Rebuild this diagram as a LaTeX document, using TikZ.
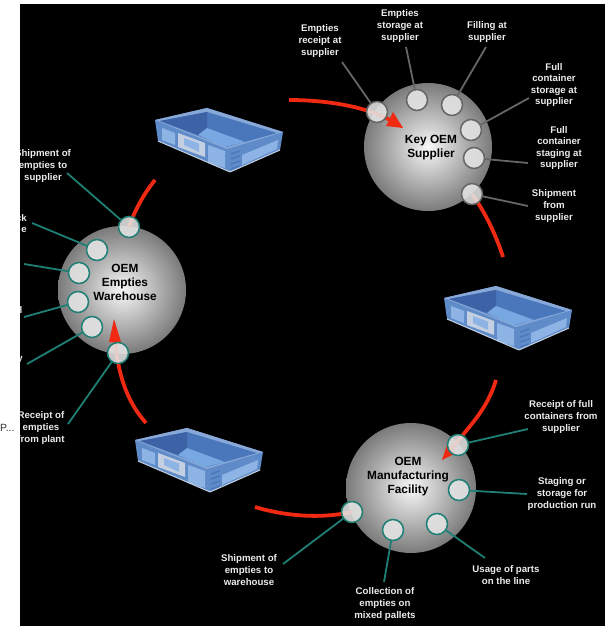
\documentclass[tikz,border=0pt]{standalone}
\usepackage{fontspec}
\setmainfont{Liberation Sans}
\definecolor{teal1}{HTML}{1F7F74}
\definecolor{grey1}{HTML}{666666}
\definecolor{red1}{HTML}{F02A12}
\definecolor{cratebody}{HTML}{5F8CC8}
\definecolor{cratepanel}{HTML}{8DB4E4}
\definecolor{cratewall}{HTML}{4A76BC}
\definecolor{cratedark}{HTML}{3D63A6}
\definecolor{cratefloor}{HTML}{78A8E2}
\definecolor{craterim}{HTML}{88A8D8}
\definecolor{cratelight}{HTML}{C4D0E2}
\tikzset{
 x=1bp,y=-1bp,
 lbl/.style={text=white!92!black,font=\bfseries\fontsize{9.7}{11.6}\selectfont,align=center,inner sep=0pt},
 ball/.style={circle,inner sep=0pt,minimum size=129bp},
 balltxt/.style={text=black,font=\bfseries\fontsize{11.9}{14}\selectfont,align=center,inner sep=0pt},
 port/.style={circle,inner sep=0pt,minimum size=21bp,draw=#1,line width=1.5bp,fill=white!90!black,fill opacity=.88},
 lead/.style={draw=#1,line width=1.8bp},
 flow/.style={draw=red1,line width=3.8bp},
 head/.style={fill=red1,draw=none},
 pics/crate/.style={code={
  % outer body
  \fill[cratebody] (0,12)--(52,0)--(128,24)--(125,42)--(75,64)--(3,33)--cycle;
  % rim and inside
  \fill[craterim] (0,12)--(52,0)--(128,24)--(72,41)--cycle;
  \fill[cratewall] (5,13)--(52,4)--(122,25)--(72,39)--cycle;
  \fill[cratedark] (5,13)--(52,4)--(52,20)--(43,27)--cycle;
  \fill[cratefloor] (43,27)--(52,20)--(90,34)--(70,39)--cycle;
  % front panels
  \fill[cratepanel] (7,20)--(20,25)--(20,37)--(7,32)--cycle;
  \fill[cratepanel] (53,37)--(70,43)--(70,60)--(53,55)--cycle;
  \fill[cratepanel] (87,47)--(123,32)--(122,41)--(87,57)--cycle;
  % ribs
  \draw[cratewall,line width=1.3bp] (76,46)--(85,43) (76,51)--(85,48) (76,56)--(85,53) (76,61)--(85,58);
  % label holder
  \fill[cratelight] (23,25)--(50,35)--(50,49)--(23,39)--cycle;
  \fill[cratepanel] (29,30)--(44,35.500)--(44,44)--(29,37)--cycle;
  % base
  \draw[cratelight,line width=1bp,line join=round] (3,33)--(75,64)--(125,42);
 }}
}
\begin{document}
\begin{tikzpicture}
\useasboundingbox (0,0) rectangle (605,626);
\fill[white] (0,0) rectangle (605,626);
\fill[black] (20,4) rectangle (605,626);
\begin{scope}
\clip (20,4) rectangle (605,626);

% crates
\pic at (155,108) {crate};
\pic at (444,286) {crate};
\pic at (135,428) {crate};

% hubs
\shade[inner color=white!97!black,outer color=black!52] (428,147) circle (64);
\shade[inner color=white!97!black,outer color=black!52] (122,290) circle (64);
\shade[inner color=white!97!black,outer color=black!52] (411,488) circle (65);
\node[ball] (supplier) at (428,147) {};
\node[ball] (warehouse) at (122,290) {};
\node[ball] (plant) at (411,488) {};
\node[balltxt] (supplierT) at (431,148) {Key OEM\\Supplier};
\node[balltxt] (warehouseT) at (125,282) {OEM\\Empties\\Warehouse};
\node[balltxt] (plantT) at (408,477) {OEM\\Manufacturing\\Facility};

% free ends of the red flows
\coordinate (r1s) at (289,100);
\coordinate (r1e) at (392,121);
\coordinate (r1t) at (403,128);
\coordinate (r2s) at (472,194);
\coordinate (r2e) at (503,257);
\coordinate (r3s) at (496,380);
\coordinate (r3e) at (449,452);
\coordinate (r3t) at (442,460);
\coordinate (r4s) at (352,512);
\coordinate (r4e) at (255,507);
\coordinate (r5s) at (146,423);
\coordinate (r5e) at (115,338);
\coordinate (r5t) at (114,319);
\coordinate (r6s) at (129,227);
\coordinate (r6e) at (155,180);

\path[flow] (r1s) .. controls (325,100) and (365,106) .. (r1e);
\fill[head] (r1t)--(386,126)--(393,112)--cycle;
\path[flow] (r2s) .. controls (485,212) and (496,235) .. (r2e);
\path[flow] (r3s) .. controls (487,410) and (470,425) .. (r3e);
\fill[head] (r3t)--(447,445)--(456,453)--cycle;
\path[flow] (r4s) .. controls (320,519) and (285,516) .. (r4e);
\path[flow] (r5s) .. controls (130,405) and (118,380) .. (r5e);
\fill[head] (r5t)--(109,342)--(121,342)--cycle;
\path[flow] (r6s) .. controls (135,210) and (143,195) .. (r6e);

% labels
\node[lbl] (a1) at (320,41) {Empties\\receipt at\\supplier};
\node[lbl] (a2) at (400,26) {Empties\\storage at\\supplier};
\node[lbl] (a3) at (487,32) {Filling at\\supplier};
\node[lbl] (a4) at (554,85) {Full\\container\\storage at\\supplier};
\node[lbl] (a5) at (559,148) {Full\\container\\staging at\\supplier};
\node[lbl] (a6) at (554,206) {Shipment\\from\\supplier};
\node[lbl] (b1) at (43,166) {Shipment of\\empties to\\supplier};
\node[lbl,anchor=north east,align=right] (b2) at (27,214) {ck\\e};
\node[lbl] (b6) at (41,428) {Receipt of\\empties\\from plant};
\node[lbl,anchor=east] (b4) at (22.500,310) {l};
\node[lbl,anchor=east] (b5) at (23,360) {y};
\node[lbl] (c1) at (561,417) {Receipt of full\\containers from\\supplier};
\node[lbl] (c2) at (562,494) {Staging or\\storage for\\production run};
\node[lbl] (c3) at (506,575) {Usage of parts\\on the line};
\node[lbl] (c4) at (385,604) {Collection of\\empties on\\mixed pallets};
\node[lbl] (c5) at (249,570) {Shipment of\\empties to\\warehouse};

% leader ends
\coordinate (la1) at (342,62);
\coordinate (la2) at (406,47);
\coordinate (la3) at (486,47);
\coordinate (la4) at (529,98);
\coordinate (la5) at (528,163);
\coordinate (la6) at (528,206);
\coordinate (lb1) at (67,173);
\coordinate (lb2) at (32,223);
\coordinate (lb3) at (24,264);
\coordinate (lb4) at (24,317);
\coordinate (lb5) at (27,364);
\coordinate (lb6) at (68,424);
\coordinate (lc1) at (528,429);
\coordinate (lc2) at (527,494);
\coordinate (lc3) at (485,558);
\coordinate (lc4) at (384,582);
\coordinate (lc5) at (283,564);

% ports
\node[port=grey1] (pa1) at (377,112) {};
\node[port=grey1] (pa2) at (417,100) {};
\node[port=grey1] (pa3) at (452,105) {};
\node[port=grey1] (pa4) at (471,130) {};
\node[port=grey1] (pa5) at (474,158) {};
\node[port=grey1] (pa6) at (472,194) {};
\node[port=teal1] (pb1) at (129,227) {};
\node[port=teal1] (pb2) at (97,250) {};
\node[port=teal1] (pb3) at (79,273) {};
\node[port=teal1] (pb4) at (78,302) {};
\node[port=teal1] (pb5) at (92,327) {};
\node[port=teal1] (pb6) at (118,353) {};
\node[port=teal1] (pc1) at (458,445) {};
\node[port=teal1] (pc2) at (459,490) {};
\node[port=teal1] (pc3) at (437,524) {};
\node[port=teal1] (pc4) at (393,530) {};
\node[port=teal1] (pc5) at (352,512) {};

\foreach \n in {1,...,6} \path[lead=grey1] (la\n) -- (pa\n);
\foreach \n in {1,...,6} \path[lead=teal1] (lb\n) -- (pb\n);
\foreach \n in {1,...,5} \path[lead=teal1] (lc\n) -- (pc\n);
\end{scope}
\node[text=black!80,font=\fontsize{10.500}{12}\selectfont,inner sep=0pt,anchor=west] (more) at (0,428) {P...};
\end{tikzpicture}
\end{document}
